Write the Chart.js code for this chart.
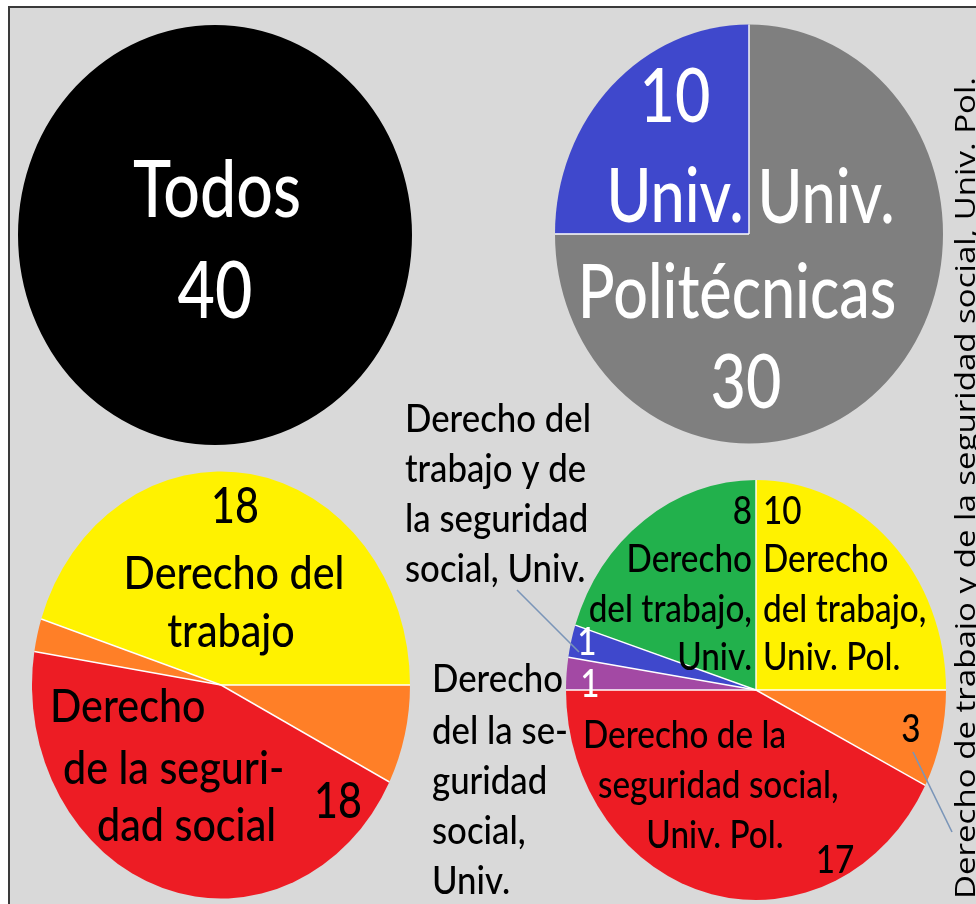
<!DOCTYPE html>
<html>
<head>
<meta charset="utf-8">
<script src="https://cdn.jsdelivr.net/npm/chart.js@4.4.1/dist/chart.umd.min.js"></script>
<style>
html,body{margin:0;padding:0;background:#fff;}
#stage{position:relative;width:976px;height:904px;overflow:hidden;background:#fff;}
#frame{position:absolute;left:8px;top:6px;width:990px;height:920px;background:#d9d9d9;border-left:2px solid #3a3a3a;border-top:2px solid #3a3a3a;}
canvas{position:absolute;left:0;top:0;}
</style>
</head>
<body>
<div id="stage">
  <div id="frame"></div>
  <canvas id="cTotal" width="976" height="904"></canvas>
  <canvas id="cUni" width="976" height="904"></canvas>
  <canvas id="cArea" width="976" height="904"></canvas>
  <canvas id="cDetail" width="976" height="904"></canvas>
</div>
<script>
// ---------- DATA ----------
const totalLabels = ['Todos'];
const totalValues = [40];

const uniLabels = ['Univ. Politécnicas', 'Univ.'];
const uniValues = [30, 10];

const areaLabels = [
  'Derecho del trabajo y de la seguridad social, Univ. Pol.',
  'Derecho de la seguridad social',
  'Derecho del trabajo y de la seguridad social, Univ.',
  'Derecho del trabajo'
];
const areaValues = [3, 18, 1, 18];

const detailLabels = [
  'Derecho de trabajo y de la seguridad social, Univ. Pol.',
  'Derecho de la seguridad social, Univ. Pol.',
  'Derecho del la seguridad social, Univ.',
  'Derecho del trabajo y de la seguridad social, Univ.',
  'Derecho del trabajo, Univ.',
  'Derecho del trabajo, Univ. Pol.'
];
const detailValues = [3, 17, 1, 1, 8, 10];

// ---------- STYLES ----------
const C = {black:'#000000', gray:'#7f7f7f', blue:'#3f48cc', red:'#ed1c24', orange:'#ff7f27',
           yellow:'#fff200', green:'#22b14c', purple:'#a349a4', white:'#ffffff'};
const W = 976, H = 904;

function makePlugin(cfg) {
  return {
    id: 'pieStyle_' + cfg.name,
    beforeDatasetsDraw(chart) {
      const a = chart.getDatasetMeta(0).data[0];
      const ctx = chart.ctx;
      ctx.save();
      ctx.translate(a.x, a.y);
      ctx.scale(1, cfg.sy);
      ctx.translate(-a.x, -a.y);
    },
    afterDatasetsDraw(chart) {
      const ctx = chart.ctx;
      const arcs = chart.getDatasetMeta(0).data;
      if (arcs.length > 1) {
        ctx.strokeStyle = '#ffffff';
        ctx.lineWidth = 1.4;
        arcs.forEach(a => {
          ctx.beginPath();
          ctx.moveTo(a.x, a.y);
          ctx.lineTo(a.x + Math.cos(a.startAngle) * a.outerRadius, a.y + Math.sin(a.startAngle) * a.outerRadius);
          ctx.stroke();
        });
      }
      ctx.restore();
      const c = arcs[0];
      (cfg.leaders || []).forEach(L => {
        ctx.save();
        ctx.strokeStyle = '#7a95b8';
        ctx.lineWidth = 1.6;
        ctx.beginPath();
        ctx.moveTo(c.x + L[0], c.y + L[1]);
        ctx.lineTo(c.x + L[2], c.y + L[3]);
        ctx.stroke();
        ctx.restore();
      });
      (cfg.labels || []).forEach(L => {
        const g = cfg.groups[L.g];
        ctx.save();
        ctx.font = (g.weight || '500') + ' ' + g.f + 'px ' + (g.family || 'Lato');
        ctx.fillStyle = L.c || g.c;
        ctx.textAlign = L.a || 'center';
        ctx.textBaseline = 'alphabetic';
        ctx.translate(c.x + L.dx, c.y + L.dy);
        if (g.rot) ctx.rotate(g.rot);
        let sx = g.sx;
        if (L.w) sx = L.w / ctx.measureText(L.t).width;
        ctx.scale(sx, g.sy);
        ctx.fillText(L.t, 0, 0);
        ctx.restore();
      });
    }
  };
}

function pie(id, labels, values, colors, rotation, geom, cfg) {
  const pad = {left: geom.cx - geom.r, top: geom.cy - geom.r,
               right: W - (geom.cx + geom.r), bottom: H - (geom.cy + geom.r)};
  return new Chart(document.getElementById(id), {
    type: 'pie',
    data: {labels: labels, datasets: [{data: values, backgroundColor: colors, borderWidth: 0, clip: false}]},
    options: {
      responsive: false, animation: false, events: [], rotation: rotation,
      layout: {padding: pad},
      plugins: {legend: {display: false}, tooltip: {enabled: false}}
    },
    plugins: [makePlugin(cfg)]
  });
}

// Top-left: all
pie('cTotal', totalLabels, totalValues, [C.black], 0, {cx: 215, cy: 235, r: 197}, {
  name: 'total', sy: 1.066,
  groups: {big: {f: 75, sx: 0.86, sy: 1.06, c: C.white}},
  labels: [
    {g: 'big', t: totalLabels[0], dx: 2, dy: -18},
    {g: 'big', t: String(totalValues[0]), dx: 0, dy: 83}
  ]
});

// Top-right: by university type
pie('cUni', uniLabels, uniValues, [C.gray, C.blue], 0, {cx: 749, cy: 234, r: 194}, {
  name: 'uni', sy: 1.08,
  groups: {big: {f: 71, sx: 0.86, sy: 1.05, c: C.white}},
  labels: [
    {g: 'big', t: String(uniValues[1]), dx: -74, dy: -112},
    {g: 'big', t: 'Univ.', dx: -74, dy: -12},
    {g: 'big', t: 'Univ.', dx: 77, dy: -11},
    {g: 'big', t: 'Politécnicas', dx: -12, dy: 84},
    {g: 'big', t: String(uniValues[0]), dx: -3, dy: 174}
  ]
});

// Bottom-left: by area
pie('cArea', areaLabels, areaValues, [C.orange, C.red, C.orange, C.yellow], 90, {cx: 221, cy: 685, r: 189}, {
  name: 'area', sy: 1.13,
  groups: {
    n: {f: 48, sx: 0.86, sy: 1.03, c: C.black},
    m: {f: 43, sx: 0.96, sy: 1.06, c: C.black}
  },
  labels: [
    {g: 'n', t: String(areaValues[3]), dx: 14, dy: -162},
    {g: 'm', t: 'Derecho del', dx: 13, dy: -96},
    {g: 'm', t: 'trabajo', dx: 10, dy: -38},
    {g: 'm', t: 'Derecho', a: 'left', dx: -171, dy: 37},
    {g: 'm', t: 'de la seguri-', a: 'left', dx: -158, dy: 99},
    {g: 'm', t: 'dad social', a: 'left', dx: -124, dy: 156},
    {g: 'n', t: String(areaValues[1]), dx: 117, dy: 133}
  ]
});

// Bottom-right: by area and university type
pie('cDetail', detailLabels, detailValues, [C.orange, C.red, C.purple, C.blue, C.green, C.yellow], 90, {cx: 756, cy: 690, r: 190}, {
  name: 'detail', sy: 1.105,
  groups: {
    s: {f: 37, sx: 0.9, sy: 1.06, c: C.black},
    o: {f: 37, sx: 0.94, sy: 1.05, c: C.black},
    v: {f: 28, sx: 1, sy: 1.0, c: C.black, family: '"Open Sans"', weight: '400', rot: -Math.PI / 2}
  },
  leaders: [[-239, -100, -177, -38], [157, 62, 196, 142]],
  labels: [
    {g: 's', t: String(detailValues[4]), a: 'right', dx: -4, dy: -166},
    {g: 's', t: String(detailValues[5]), a: 'left', dx: 7, dy: -166},
    {g: 's', t: 'Derecho', a: 'right', dx: -4, dy: -118},
    {g: 's', t: 'del trabajo,', a: 'right', dx: -4, dy: -68},
    {g: 's', t: 'Univ.', a: 'right', dx: -4, dy: -20},
    {g: 's', t: 'Derecho', a: 'left', dx: 7, dy: -118},
    {g: 's', t: 'del trabajo,', a: 'left', dx: 7, dy: -68},
    {g: 's', t: 'Univ. Pol.', a: 'left', dx: 7, dy: -20},
    {g: 's', t: String(detailValues[3]), c: C.white, dx: -169, dy: -35},
    {g: 's', t: String(detailValues[2]), c: C.white, dx: -166, dy: 7},
    {g: 's', t: 'Derecho de la', a: 'left', dx: -173, dy: 58},
    {g: 's', t: 'seguridad social,', a: 'left', dx: -158, dy: 108},
    {g: 's', t: 'Univ. Pol.', dx: -41, dy: 158},
    {g: 's', t: String(detailValues[1]), dx: 79, dy: 183},
    {g: 's', t: String(detailValues[0]), dx: 155, dy: 52},
    {g: 'o', t: 'Derecho del', a: 'left', dx: -351, dy: -258},
    {g: 'o', t: 'trabajo y de', a: 'left', dx: -351, dy: -208},
    {g: 'o', t: 'la seguridad', a: 'left', dx: -351, dy: -158},
    {g: 'o', t: 'social, Univ.', a: 'left', dx: -351, dy: -108},
    {g: 'o', t: 'Derecho', a: 'left', dx: -324, dy: 2},
    {g: 'o', t: 'del la se-', a: 'left', dx: -324, dy: 54},
    {g: 'o', t: 'guridad', a: 'left', dx: -324, dy: 104},
    {g: 'o', t: 'social,', a: 'left', dx: -324, dy: 154},
    {g: 'o', t: 'Univ.', a: 'left', dx: -324, dy: 204},
    {g: 'v', t: detailLabels[0], a: 'left', dx: 219, dy: 209, w: 822}
  ]
});
</script>
</body>
</html>
